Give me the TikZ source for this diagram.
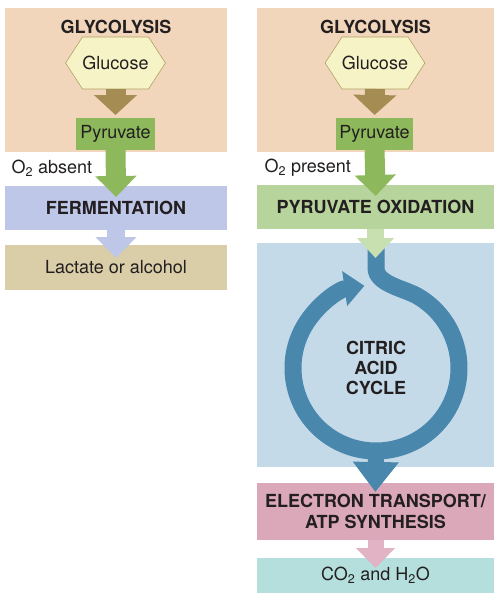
\documentclass[tikz,border=0pt]{standalone}
\usepackage{fontspec}
\setmainfont{TeX Gyre Heros}
\usetikzlibrary{arrows.meta,shapes.symbols,calc}

\definecolor{peach}{HTML}{F1D6BC}
\definecolor{hexfill}{HTML}{F6F3C7}
\definecolor{hexline}{HTML}{B0A265}
\definecolor{brownarr}{HTML}{A58C52}
\definecolor{pyrgreen}{HTML}{8DB85B}
\definecolor{fermblue}{HTML}{BFC7E8}
\definecolor{lacttan}{HTML}{D9CEA8}
\definecolor{oxgreen}{HTML}{B7D49D}
\definecolor{oxarrow}{HTML}{C8DFB0}
\definecolor{citricbg}{HTML}{C4DAE9}
\definecolor{cycblue}{HTML}{4A87AC}
\definecolor{etcpink}{HTML}{DBA8BA}
\definecolor{etcarrow}{HTML}{E2B3C4}
\definecolor{prodteal}{HTML}{B4DFDC}
\definecolor{ink}{HTML}{231F20}

\tikzset{
    txt/.style={text=ink, font=\fontsize{18}{20}\selectfont},
    bold/.style={txt, font=\fontsize{18}{20}\selectfont\bfseries, align=center},
    box/.style={rectangle, inner sep=0pt, outer sep=0pt, txt},
    hexa/.style={signal, signal to=west and east, signal pointer angle=114,
        fill=hexfill, draw=hexline, line width=0.6pt, inner sep=0pt, outer sep=0pt,
        minimum width=89pt, minimum height=52pt, txt},
    fat/.style={line width=20pt, -{Triangle[length=21pt,width=40pt]}},
    ring/.style={cycblue, line width=17pt},
}

\begin{document}
\begin{tikzpicture}[x=1pt, y=1pt]
        \useasboundingbox (0,0) rectangle (502,-600);

        % Boxes, left
        \node[box, fill=peach, minimum width=222pt, minimum height=144pt] (glyL) at (116,-80) {};
        \node[box, fill=fermblue, minimum width=222pt, minimum height=44pt] (ferm) at (116,-208) {\bfseries FERMENTATION};
        \node[box, fill=lacttan, minimum width=222pt, minimum height=45pt] (lact) at (116,-267.5) {Lactate or alcohol};

        % Boxes, right
        \node[box, fill=peach, minimum width=237pt, minimum height=144pt] (glyR) at (375.5,-80) {};
        \node[box, fill=oxgreen, minimum width=237pt, minimum height=44pt] (oxid) at (375.5,-207) {\bfseries PYRUVATE OXIDATION};
        \node[box, fill=citricbg, minimum width=237pt, minimum height=224pt] (citric) at (375.5,-355) {};
        \node[box, fill=etcpink, minimum width=237pt, minimum height=57pt, align=center] (etc) at (375.5,-511.5)
            {\bfseries ELECTRON TRANSPORT/\\[1pt]\bfseries ATP SYNTHESIS};
        \node[box, fill=prodteal, minimum width=237pt, minimum height=35pt] (prod) at (375.5,-575.5)
            {CO\textsubscript{2} and H\textsubscript{2}O};

        % Glycolysis
        \node[bold] (titL) at (116,-26.5) {GLYCOLYSIS};
        \node[bold] (titR) at (375.5,-26.5) {GLYCOLYSIS};
        \node[hexa] (gluL) at (115.5,-63) {Glucose};
        \node[hexa] (gluR) at (375,-63) {Glucose};
        \node[box, fill=pyrgreen, minimum width=79pt, minimum height=32pt] (pyrL) at (115.5,-134) {Pyruvate};
        \node[box, fill=pyrgreen, minimum width=77pt, minimum height=32pt] (pyrR) at (374.5,-134) {Pyruvate};

        % Oxygen
        \node[txt, anchor=west] (absent) at (8,-168) {O\textsubscript{2} absent};
        \node[txt, anchor=west] (present) at (261,-168) {O\textsubscript{2} present};

        % Citric acid cycle
        \coordinate (cyc) at (376,-368);
        \coordinate (cyctop) at (376,-248);
        \coordinate (cycbot) at (376,-451);
        \draw[ring, -{Triangle[length=20pt,width=34pt]}] (cyctop) -- (376,-268)
            .. controls (376,-284) and (404.5,-288.6) .. ($(cyc)+(60:83)$)
            arc[start angle=60, end angle=-262, radius=83];
        \draw[ring, line width=16pt, -{Triangle[length=30pt,width=44pt]}, shorten >=-9pt] (cycbot) -- (etc.north);
        \node[bold] (cyclbl) at (cyc) {CITRIC\\ACID\\CYCLE};

        % Arrows
        \draw[fat, brownarr, -{Triangle[length=20pt,width=42pt]}, shorten >=3pt] (gluL.south) -- (pyrL.north);
        \draw[fat, brownarr, -{Triangle[length=20pt,width=42pt]}, shorten >=3pt] (gluR.south) -- (pyrR.north);
        \draw[fat, pyrgreen, shorten >=-11pt] (pyrL.south) -- (ferm.north);
        \draw[fat, pyrgreen, shorten >=-11pt] (pyrR.south) -- (oxid.north);
        \draw[fat, fermblue, line width=18pt, shorten >=-13pt] (ferm.south) -- (lact.north);
        \draw[fat, oxarrow, line width=17pt, -{Triangle[length=20pt,width=36pt]}, shorten >=-15pt] (oxid.south) -- (citric.north);
        \draw[fat, etcarrow, line width=16pt, -{Triangle[length=20pt,width=38pt]}, shorten >=-10pt] (etc.south) -- (prod.north);

    \end{tikzpicture}
\end{document}
